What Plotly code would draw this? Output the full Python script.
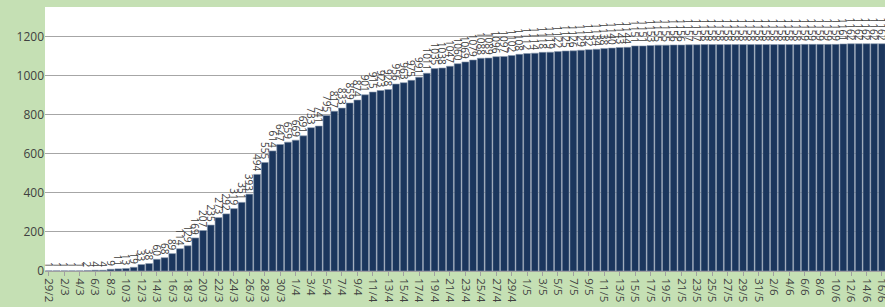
import plotly.graph_objects as go
import datetime as dt

start = dt.date(2020, 2, 29)
n_days = 109
dates = [start + dt.timedelta(days=i) for i in range(n_days)]
categories = [f"{d.day}/{d.month}" for d in dates]

values = [
    1, 1, 1, 1, 1, 2, 4, 4, 9, 11, 13, 19, 33, 38, 60, 68, 89, 114, 129, 169,
    207, 235, 273, 292, 319, 351, 393, 494, 555, 614, 647, 659, 669, 691, 733, 741,
    795, 817, 833, 859, 874, 901, 915, 923, 928, 956, 963, 975, 991, 1011, 1035,
    1038, 1047, 1060, 1069, 1079, 1088, 1089, 1096, 1097, 1102, 1108, 1112, 1114,
    1118, 1119, 1122, 1125, 1126, 1129, 1132, 1134, 1138, 1140, 1143, 1144, 1151,
    1151, 1153, 1155, 1155, 1156, 1156, 1157, 1157, 1158, 1158, 1158, 1158, 1158,
    1158, 1158, 1158, 1158, 1158, 1158, 1158, 1158, 1159, 1159, 1159, 1159, 1159,
    1161, 1162, 1162, 1162, 1162, 1162,
]
values = values[:n_days]
tick_labels = categories[::2]

fig = go.Figure(go.Bar(
    x=categories,
    y=values,
    text=[str(v) for v in values],
    textposition="outside",
    textangle=90,
    constraintext="none",
    cliponaxis=False,
    textfont=dict(size=10, color="#404040", family="Open Sans"),
    marker=dict(color="#1b365d", line=dict(color="#8a98ad", width=0.6)),
))

fig.update_layout(
    width=885, height=307,
    margin=dict(l=45, r=0, t=7, b=36, autoexpand=False),
    paper_bgcolor="#c5e0b4",
    plot_bgcolor="#ffffff",
    bargap=0.1,
    showlegend=False,
    font=dict(family="Open Sans", color="#404040"),
)
fig.update_xaxes(
    type="category",
    tickmode="array",
    tickvals=tick_labels,
    ticktext=tick_labels,
    tickangle=90,
    tickfont=dict(size=11.5, color="#404040"),
    range=[-0.5, 108.4],
    showline=True, linecolor="#a0a0a0", linewidth=1,
    ticks="outside", ticklen=4, tickcolor="#a0a0a0",
    showgrid=False,
    automargin=False,
)
fig.update_yaxes(
    range=[0, 1350],
    tickvals=[0, 200, 400, 600, 800, 1000, 1200],
    tickfont=dict(size=12, color="#404040"),
    showgrid=True, gridcolor="#a6a6a6", gridwidth=1,
    zeroline=False,
    ticks="",
    automargin=False,
)

fig.write_html(
    "out.html",
    config={"displayModeBar": False},
    post_script="document.body.style.margin='0';document.body.style.padding='0';",
)
